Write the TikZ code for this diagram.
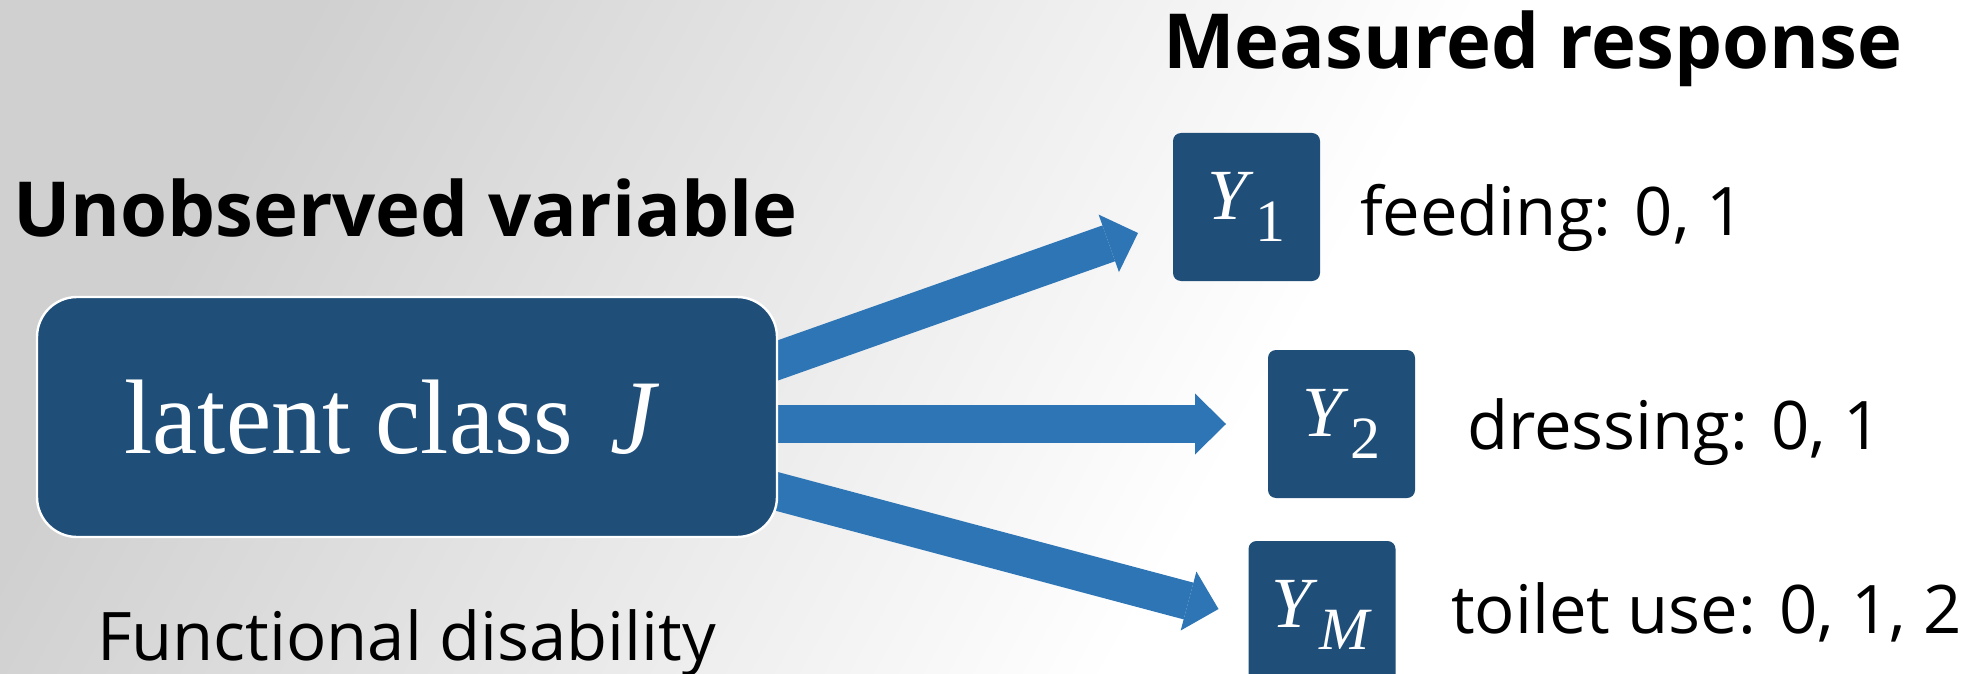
\documentclass[tikz,border=0pt]{standalone}
\usepackage{fontspec}
\newfontfamily\uisans{Open Sans}
\newfontfamily\boxserif[FakeStretch=0.96]{Liberation Serif}
\newfontfamily\itemserif{Liberation Serif}
\usetikzlibrary{arrows.meta,calc}
\definecolor{boxblue}{HTML}{1F4E79}
\definecolor{arrowblue}{HTML}{2E75B6}
\definecolor{bggray}{gray}{0.815}
\pgfdeclarelayer{back}
\pgfdeclarelayer{arrowlayer}
\pgfsetlayers{back,arrowlayer,main}
\pgfdeclarehorizontalshading{bgfade}{100bp}{color(0bp)=(bggray); color(25bp)=(bggray); color(59bp)=(white); color(100bp)=(white)}
% item symbol: italic Y with a lowered index
\newcommand\yname[1]{\textit{Y}\kern0.02em\raisebox{-0.3em}{\fontsize{30}{36}\selectfont #1}}
\begin{document}
\begin{tikzpicture}[x=0.5pt,y=-0.5pt,
  every node/.style={inner sep=0pt, outer sep=0pt},
  latentbox/.style={fill=boxblue, draw=white, line width=1.2pt, rounded corners=20pt,
    minimum width=370pt, minimum height=120pt, text=white, text depth=0pt,
    font=\boxserif\fontsize{53}{62}\selectfont},
  itembox/.style={fill=boxblue, rounded corners=4pt, minimum width=73.5pt,
    minimum height=74pt, text=white, font=\itemserif\fontsize{36}{42}\selectfont},
  heading/.style={anchor=base west, font=\uisans\bfseries\fontsize{38}{45}\selectfont},
  plain/.style={anchor=base west, font=\uisans\fontsize{33.5}{40}\selectfont},
  blockarrow/.style={draw=arrowblue, line width=19pt,
    -{Triangle[length=15.5pt, width=30.5pt, line width=0pt, fill=arrowblue]}}
]
\useasboundingbox (0,0) rectangle (1972,674);

% soft grey-to-white backdrop
\begin{pgfonlayer}{back}
  \shade[shading=bgfade, shading angle=-29] (0,0) rectangle (1972,674);
\end{pgfonlayer}

% headings and captions
\node[heading] (meas) at (1163,69) {Measured response};
\node[heading] (unobs) at (13,236) {Unobserved variable};
\node[plain] (func) at (97,660) {Functional disability};

% the latent variable
\node[latentbox] (latent) at (407,417) {latent class\hspace{0.35em}\textit{J}\hspace*{15pt}};

% observed items
\node[itembox] (y1) at (1246.5,207) {\yname{1}};
\node[itembox] (y2) at (1341.5,424) {\yname{2}};
\node[itembox] (ym) at (1322,615) {\yname{\textit{M}}};

\node[plain] (feed) at (1360,235) {feeding: 0, 1};
\node[plain] (dress) at (1467,449) {dressing: 0, 1};
\node[plain] (toilet) at (1451,633) {toilet use: 0, 1, 2};

% arrow start points on the latent box, tips just short of the items
\coordinate (s1) at ($(latent.east)+(2,-57)$);
\coordinate (s2) at ($(latent.east)+(2,7)$);
\coordinate (s3) at ($(latent.east)+(2,75)$);
\coordinate (t1) at ($(y1.west)+(-35,26)$);
\coordinate (t2) at ($(y2.west)+(-42,0)$);
\coordinate (t3) at ($(ym.west)+(-30,-6)$);

\begin{pgfonlayer}{arrowlayer}
  \draw[blockarrow] ($(s1)!-20pt!(t1)$) -- (t1);
  \draw[blockarrow] ($(s2)!-20pt!(t2)$) -- (t2);
  \draw[blockarrow] ($(s3)!-20pt!(t3)$) -- (t3);
\end{pgfonlayer}
\end{tikzpicture}
\end{document}
